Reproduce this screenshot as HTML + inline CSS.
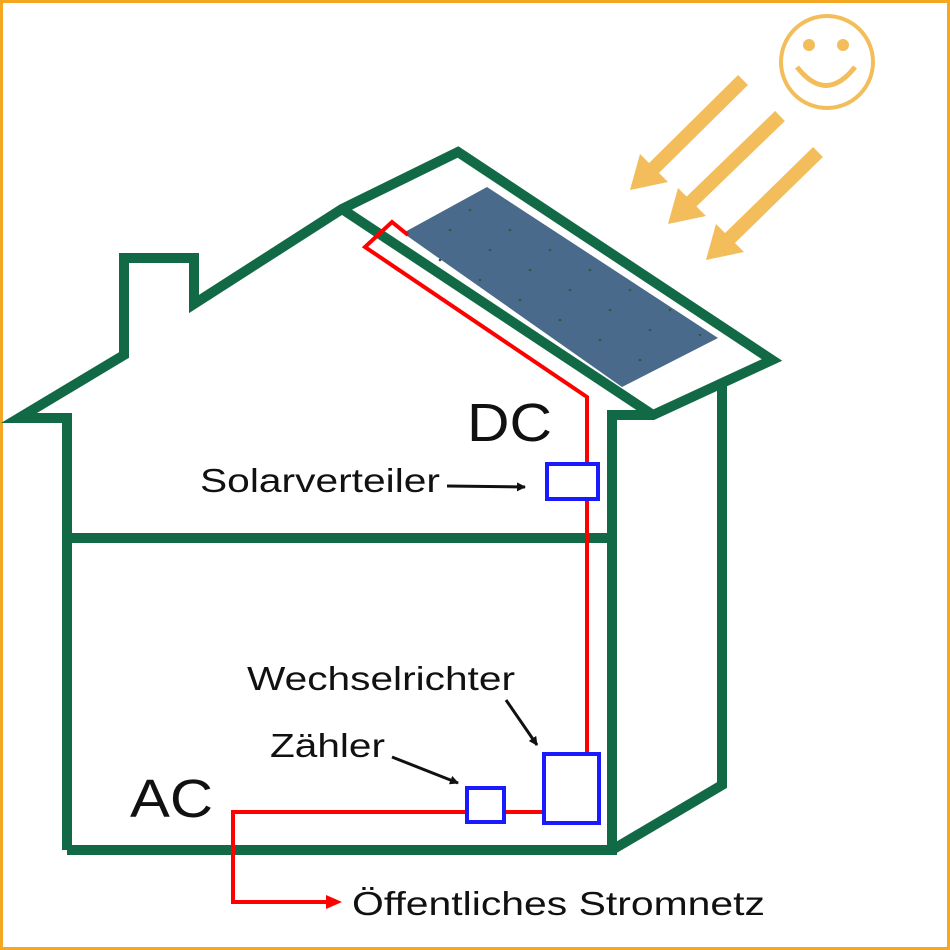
<!DOCTYPE html>
<html><head><meta charset="utf-8"><style>
html,body{margin:0;padding:0;background:#fff;}
svg{display:block;}
text{font-family:"Liberation Sans",Arial,sans-serif;fill:#111;}
</style></head><body>
<svg width="950" height="950" viewBox="0 0 950 950" xmlns="http://www.w3.org/2000/svg">
<defs>
<marker id="bk" markerWidth="9" markerHeight="9" refX="8" refY="4.5" orient="auto" markerUnits="userSpaceOnUse"><path d="M0,0 L9,4.5 L0,9 Z" fill="#111"/></marker>
</defs>
<rect x="1.5" y="1.5" width="947" height="947" fill="#fff" stroke="#f5a623" stroke-width="3"/>
<!-- sun -->
<circle cx="827" cy="62" r="46" fill="none" stroke="#f2bd5a" stroke-width="4"/>
<circle cx="809" cy="45" r="6" fill="#f2bd5a"/>
<circle cx="843" cy="45" r="6" fill="#f2bd5a"/>
<path d="M797,67 Q826,104 855,67" fill="none" stroke="#f2bd5a" stroke-width="5"/>
<!-- rays -->
<g stroke="#f2bd5a" stroke-width="14" fill="#f2bd5a">
<line x1="743" y1="80" x2="652" y2="170"/>
<line x1="780" y1="116" x2="690" y2="203"/>
<line x1="818" y1="152" x2="728" y2="240"/>
</g>
<g fill="#f2bd5a">
<polygon points="630,190 640,154 668,182"/>
<polygon points="668,224 678,188 706,216"/>
<polygon points="706,260 716,224 744,252"/>
</g>
<!-- panel -->
<polygon points="403,233 487,187 718,338 622,387" fill="#4a6a8c"/>
<g fill="#2a5a40">
<circle cx="450" cy="230" r="1.3"/><circle cx="490" cy="250" r="1.3"/><circle cx="530" cy="270" r="1.3"/><circle cx="570" cy="290" r="1.3"/><circle cx="610" cy="310" r="1.3"/><circle cx="650" cy="330" r="1.3"/>
<circle cx="440" cy="260" r="1.3"/><circle cx="480" cy="280" r="1.3"/><circle cx="520" cy="300" r="1.3"/><circle cx="560" cy="320" r="1.3"/><circle cx="600" cy="340" r="1.3"/><circle cx="640" cy="360" r="1.3"/>
<circle cx="470" cy="210" r="1.3"/><circle cx="510" cy="230" r="1.3"/><circle cx="550" cy="250" r="1.3"/><circle cx="590" cy="270" r="1.3"/><circle cx="630" cy="290" r="1.3"/><circle cx="670" cy="310" r="1.3"/><circle cx="700" cy="335" r="1.3"/>
</g>
<!-- house -->
<g fill="none" stroke="#116a45" stroke-width="10" stroke-linejoin="miter">
<polyline points="67,850 67,418 19,418 124,355 124,258 194,258 194,304 342,209 458,152 772,360 653,415 612,415 612,850 67,850"/>
<line x1="342" y1="209" x2="653" y2="415"/>
<line x1="67" y1="538" x2="612" y2="538"/>
<polyline points="722,385 722,785 612,850"/>
</g>
<!-- red wires -->
<g fill="none" stroke="#f00" stroke-width="4">
<polyline points="408,235 392,222 365,247 587,397 587,755"/>
<line x1="504" y1="812" x2="543" y2="812"/>
<polyline points="466,812 233,812 233,902 330,902"/>
</g>
<polygon points="342,902 326,895 326,909" fill="#f00"/>
<!-- boxes -->
<g fill="#fff" stroke="#1a1aff" stroke-width="4">
<rect x="547" y="464" width="51" height="35"/>
<rect x="544" y="754" width="55" height="69"/>
<rect x="467" y="788" width="37" height="34"/>
</g>
<!-- labels -->
<text x="467" y="441" font-size="54" textLength="85" lengthAdjust="spacingAndGlyphs">DC</text>
<text x="130" y="817" font-size="54" textLength="83" lengthAdjust="spacingAndGlyphs">AC</text>
<text x="200" y="492" font-size="33" textLength="240" lengthAdjust="spacingAndGlyphs">Solarverteiler</text>
<text x="247" y="690" font-size="33" textLength="268" lengthAdjust="spacingAndGlyphs">Wechselrichter</text>
<text x="270" y="757" font-size="33" textLength="115" lengthAdjust="spacingAndGlyphs">Zähler</text>
<text x="352" y="915" font-size="33" textLength="413" lengthAdjust="spacingAndGlyphs">Öffentliches Stromnetz</text>
<g stroke="#111" stroke-width="3" marker-end="url(#bk)">
<line x1="447" y1="486" x2="525" y2="487"/>
<line x1="392" y1="757" x2="458" y2="783"/>
<line x1="506" y1="700" x2="537" y2="745"/>
</g>
</svg>
</body></html>
